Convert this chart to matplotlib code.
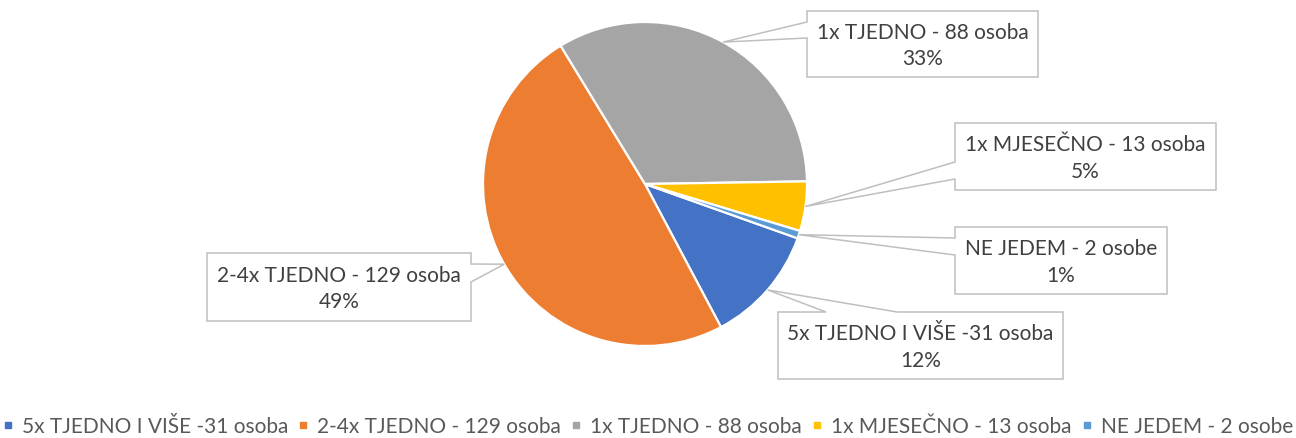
import matplotlib.pyplot as plt
import numpy as np
from matplotlib.path import Path
from matplotlib.patches import PathPatch
from matplotlib.lines import Line2D

# Data
labels = ["5x TJEDNO I VIŠE -31 osoba", "2-4x TJEDNO - 129 osoba", "1x TJEDNO - 88 osoba",
          "1x MJESEČNO - 13 osoba", "NE JEDEM - 2 osobe"]
counts = [31, 129, 88, 13, 2]
colors = ["#4472C4", "#ED7D31", "#A5A5A5", "#FFC000", "#5B9BD5"]

# callout boxes in figure pixels (x0, y0, x1, y1), top-left origin, and pointer side/base
boxes = [(778, 313, 1063, 380), (207, 254, 471, 322), (807, 12, 1038, 78),
         (955, 124, 1216, 191), (955, 228, 1167, 295)]
pointers = [("top", 826, 897), ("right", 265, 283), ("left", 23, 39),
            ("left", 163, 180), ("left", 239, 256)]

W, H = 1296, 439
plt.rcParams['font.family'] = ['Lato', 'DejaVu Sans']
fig = plt.figure(figsize=(W / 100, H / 100), dpi=100)

# pie axes: centre (645,185), radius 162 px
cx, cy, r = 645, 185, 162
ax = fig.add_axes([(cx - r) / W, (H - cy - r) / H, 2 * r / W, 2 * r / H])
wedges, _ = ax.pie(counts, colors=colors, startangle=-19.6, counterclock=False,
                   wedgeprops=dict(edgecolor="white", linewidth=1.6))
ax.set_xlim(-1, 1)
ax.set_ylim(-1, 1)
ax.axis("off")

# overlay axes for callouts, pixel coordinates
ov = fig.add_axes([0, 0, 1, 1])
ov.set_xlim(0, W)
ov.set_ylim(H, 0)
ov.axis("off")

total = sum(counts)
fig.canvas.draw()
for i, w in enumerate(wedges):
    mid = np.deg2rad((w.theta1 + w.theta2) / 2)
    dx, dy = ax.transData.transform((np.cos(mid), np.sin(mid)))
    tip = (dx, H - dy)
    x0, y0, x1, y1 = boxes[i]
    side, a, b = pointers[i]
    if side == "left":
        verts = [(x0, y0), (x1, y0), (x1, y1), (x0, y1), (x0, b), tip, (x0, a), (x0, y0)]
    elif side == "right":
        verts = [(x0, y0), (x1, y0), (x1, a), tip, (x1, b), (x1, y1), (x0, y1), (x0, y0)]
    else:
        verts = [(x0, y0), (a, y0), tip, (b, y0), (x1, y0), (x1, y1), (x0, y1), (x0, y0)]
    codes = [Path.MOVETO] + [Path.LINETO] * (len(verts) - 2) + [Path.CLOSEPOLY]
    ov.add_patch(PathPatch(Path(verts, codes), facecolor="white", edgecolor="#BFBFBF", linewidth=1.1))
    pct = round(counts[i] / total * 100)
    ov.text((x0 + x1) / 2, (y0 + y1) / 2 + 1, f"{labels[i]}\n{pct}%", ha="center", va="center",
            fontsize=15, color="#404040", linespacing=1.4)

handles = [Line2D([], [], marker="s", linestyle="none", markersize=5, color=c) for c in colors]
fig.legend(handles, labels, loc="center", bbox_to_anchor=(0.5, 1 - 427 / H), ncol=5,
           frameon=False, fontsize=15, handlelength=0.45, handletextpad=0.45,
           columnspacing=0.5, labelcolor="#595959")

fig.savefig("out.png", dpi=100)
